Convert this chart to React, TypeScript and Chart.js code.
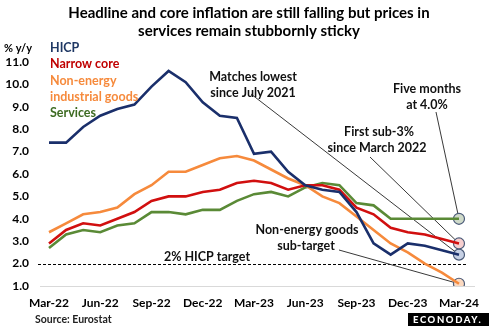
import React, { useEffect, useRef } from "react";
import { Chart, registerables } from "chart.js";
Chart.register(...registerables);

const months = [
  "Mar-22", "Apr-22", "May-22", "Jun-22", "Jul-22", "Aug-22", "Sep-22", "Oct-22", "Nov-22", "Dec-22",
  "Jan-23", "Feb-23", "Mar-23", "Apr-23", "May-23", "Jun-23", "Jul-23", "Aug-23", "Sep-23", "Oct-23",
  "Nov-23", "Dec-23", "Jan-24", "Feb-24", "Mar-24",
];
const hicp = [7.4, 7.4, 8.1, 8.6, 8.9, 9.1, 9.9, 10.6, 10.1, 9.2, 8.6, 8.5, 6.9, 7.0, 6.1, 5.5, 5.3, 5.2, 4.3, 2.9, 2.4, 2.9, 2.8, 2.6, 2.4];
const narrowCore = [2.9, 3.5, 3.8, 3.7, 4.0, 4.3, 4.8, 5.0, 5.0, 5.2, 5.3, 5.6, 5.7, 5.6, 5.3, 5.5, 5.5, 5.3, 4.5, 4.2, 3.6, 3.4, 3.3, 3.1, 2.9];
const neig = [3.4, 3.8, 4.2, 4.3, 4.5, 5.1, 5.5, 6.1, 6.1, 6.4, 6.7, 6.8, 6.6, 6.2, 5.8, 5.5, 5.0, 4.7, 4.1, 3.5, 2.9, 2.5, 2.0, 1.6, 1.1];
const services = [2.7, 3.3, 3.5, 3.4, 3.7, 3.8, 4.3, 4.3, 4.2, 4.4, 4.4, 4.8, 5.1, 5.2, 5.0, 5.4, 5.6, 5.5, 4.7, 4.6, 4.0, 4.0, 4.0, 4.0, 4.0];
const targetValue = 2.0;
const yMin = 1;
const yMax = 11;

const FONT = "Lato, 'Open Sans', sans-serif";
const NAVY = "#1a2f6b";
const RED = "#d10f0f";
const ORANGE = "#f68a3c";
const GREEN = "#5a8a36";

function lastOnly(arr: number[]) {
  return arr.map((v, i) => (i === arr.length - 1 ? v : null));
}

const overlay = {
  id: "overlay",
  beforeDatasetsDraw(chart: any) {
    const ctx = chart.ctx;
    const x = chart.scales.x;
    const y = chart.scales.y;
    ctx.save();
    // baseline
    ctx.strokeStyle = "#d9d9d9";
    ctx.lineWidth = 1;
    ctx.beginPath();
    const yb = Math.round(y.getPixelForValue(yMin)) + 0.5;
    ctx.moveTo(40, yb);
    ctx.lineTo(475, yb);
    ctx.stroke();
    // target dashed
    ctx.strokeStyle = "#000";
    ctx.setLineDash([3, 2]);
    const yt = Math.round(y.getPixelForValue(targetValue)) + 0.5;
    ctx.beginPath();
    ctx.moveTo(38, yt);
    ctx.lineTo(467, yt);
    ctx.stroke();
    ctx.setLineDash([]);
    // annotation connectors
    const li = months.length - 1;
    const ex = x.getPixelForValue(li);
    const conn = [
      [251, 94, hicp[li]],
      [370, 157, narrowCore[li]],
      [436, 112, services[li]],
      [339, 250, neig[li]],
    ];
    ctx.strokeStyle = "#222";
    ctx.lineWidth = 0.9;
    for (const [sx, sy, v] of conn) {
      ctx.beginPath();
      ctx.moveTo(sx, sy);
      ctx.lineTo(ex, y.getPixelForValue(v));
      ctx.stroke();
    }
    ctx.restore();
  },
  afterDraw(chart: any) {
    const ctx = chart.ctx;
    ctx.save();
    ctx.textBaseline = "middle";
    // title
    ctx.fillStyle = "#000";
    ctx.textAlign = "center";
    ctx.font = `bold 15px ${FONT}`;
    ctx.fillText("Headline and core inflation are still falling but prices in", 249, 13);
    ctx.fillText("services remain stubbornly sticky", 249, 31);
    // unit
    ctx.textAlign = "left";
    ctx.font = `bold 11px ${FONT}`;
    ctx.fillStyle = "#000";
    ctx.fillText("% y/y", 4, 48);
    // legend labels
    ctx.font = `bold 12.5px ${FONT}`;
    const leg: [string, string, number][] = [
      ["HICP", "#1f3864", 48],
      ["Narrow core", "#c00000", 64],
      ["Non-energy", ORANGE, 81],
      ["industrial goods", ORANGE, 97],
      ["Services", "#3d6b22", 113],
    ];
    for (const [t, c, yy] of leg) {
      ctx.fillStyle = c;
      ctx.fillText(t, 50, yy);
    }
    // annotations
    ctx.textAlign = "center";
    ctx.fillStyle = "#111";
    ctx.font = `bold 12.5px ${FONT}`;
    ctx.fillText("Matches lowest", 253, 77);
    ctx.fillText("since July 2021", 253, 93);
    ctx.fillText("Five months", 427, 89);
    ctx.fillText("at 4.0%", 427, 105);
    ctx.fillText("First sub-3%", 379, 132);
    ctx.fillText("since March 2022", 377, 148);
    ctx.fillText("Non-energy goods", 307, 230);
    ctx.fillText("sub-target", 306, 246);
    ctx.fillText("2% HICP target", 207, 257);
    // source
    ctx.textAlign = "left";
    ctx.font = `bold 10.5px ${FONT}`;
    ctx.fillStyle = "#222";
    ctx.fillText("Source: Eurostat", 35, 320);
    // logo
    ctx.fillStyle = "#000";
    ctx.fillRect(408, 313, 81, 13);
    ctx.fillStyle = "#fff";
    ctx.font = `900 9.5px ${FONT}`;
    try { (ctx as any).letterSpacing = "1.6px"; } catch (e) {}
    ctx.fillText("ECONODAY.", 413, 320);
    ctx.restore();
  },
};

export default function App() {
  const ref = useRef<HTMLCanvasElement | null>(null);
  useEffect(() => {
    if (!ref.current) return;
    const lineDs = (label: string, data: number[], color: string, order: number) => ({
      label,
      data,
      borderColor: color,
      backgroundColor: color,
      borderWidth: 2.6,
      pointRadius: 0,
      tension: 0,
      order,
    });
    const markDs = (data: number[], fill: string) => ({
      label: "m",
      data: lastOnly(data),
      showLine: false,
      pointRadius: 5.5,
      pointBackgroundColor: fill,
      pointBorderColor: "#4a5a78",
      pointBorderWidth: 1.2,
      order: 10,
    });
    const chart = new Chart(ref.current, {
      type: "line",
      data: {
        labels: months,
        datasets: [
          lineDs("HICP", hicp, NAVY, 1),
          lineDs("Narrow core", narrowCore, RED, 2),
          lineDs("Non-energy industrial goods", neig, ORANGE, 3),
          lineDs("Services", services, GREEN, 4),
          markDs(services, "#cfdac9"),
          markDs(narrowCore, "#f7cfcf"),
          markDs(hicp, "#c6d0e4"),
          markDs(neig, "#fbd9c0"),
        ] as any,
      },
      options: {
        animation: false,
        responsive: false,
        maintainAspectRatio: false,
        layout: { padding: { top: 62, right: 23, left: 0, bottom: 0 }, autoPadding: false } as any,
        plugins: { legend: { display: false }, tooltip: { enabled: false }, title: { display: false } },
        scales: {
          x: {
            offset: false,
            grid: { display: false, drawTicks: false },
            border: { display: false },
            ticks: {
              autoSkip: false,
              maxRotation: 0,
              minRotation: 0,
              padding: 10,
              color: "#000",
              font: { family: FONT, weight: "bold", size: 12 },
              callback: (_v: any, i: number) => (i % 3 === 0 ? months[i] : ""),
            },
            afterFit: (s: any) => { s.height = 40; },
          },
          y: {
            min: yMin,
            max: yMax,
            grid: { display: false, drawTicks: false },
            border: { display: false },
            ticks: {
              stepSize: 1,
              padding: 20,
              color: "#000",
              font: { family: FONT, weight: "bold", size: 12 },
              callback: (v: any) => Number(v).toFixed(1),
            },
            afterFit: (s: any) => { s.width = 49; },
          },
        },
      } as any,
      plugins: [overlay],
    });
    return () => chart.destroy();
  }, []);
  return (
    <div style={{ position: "fixed", left: 0, top: 0, width: 489, height: 326, background: "#fff" }}>
      <canvas ref={ref} width={489} height={326} style={{ width: 489, height: 326, display: "block" }} />
    </div>
  );
}
